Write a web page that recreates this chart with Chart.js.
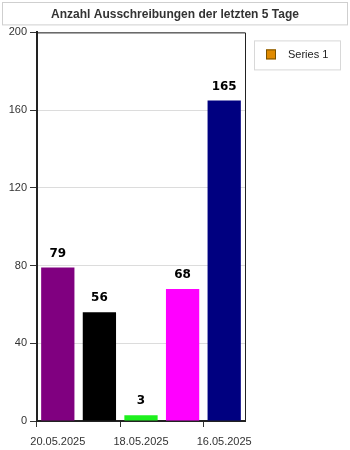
<!DOCTYPE html>
<html>
<head>
<meta charset="utf-8">
<script src="https://cdn.jsdelivr.net/npm/chart.js@4.4.0/dist/chart.umd.min.js"></script>
<style>
  html, body { margin: 0; padding: 0; background: #fff; }
  #wrap { width: 350px; height: 450px; }
</style>
</head>
<body>
<div id="wrap"><canvas id="grafico" width="350" height="450"></canvas></div>
<script>
// datos del grafico
const tage = ['20.05.2025', '19.05.2025', '18.05.2025', '17.05.2025', '16.05.2025'];
const anzahl = [79, 56, 3, 68, 165];
const farben = ['#800080', '#000000', '#1ef01e', '#ff00ff', '#000080'];
const yTicks = [0, 40, 80, 120, 160, 200];
const titel = 'Anzahl Ausschreibungen der letzten 5 Tage';
const serieName = 'Series 1';

const fuente = "'Liberation Sans', Arial, sans-serif";

// caja del titulo, borde del area y leyenda propia
const extras = {
  id: 'extras',
  afterDraw(chart) {
    const ctx = chart.ctx;
    const a = chart.chartArea;
    const t = chart.titleBlock;
    ctx.save();
    // caja titulo (ocupa todo el ancho)
    ctx.strokeStyle = '#cfcfcf';
    ctx.lineWidth = 1;
    ctx.strokeRect(2.5, t.top + 0.5, chart.width - 5, t.height - 8);
    ctx.fillStyle = '#333';
    ctx.font = 'bold 12px ' + fuente;
    ctx.textAlign = 'center';
    ctx.textBaseline = 'middle';
    ctx.fillText(titel, chart.width / 2, t.top + (t.height - 8) / 2 + 1);
    // borde arriba / derecha
    ctx.strokeStyle = '#222';
    ctx.beginPath();
    ctx.moveTo(a.left, a.top + 0.5);
    ctx.lineTo(a.right + 0.5, a.top + 0.5);
    ctx.lineTo(a.right + 0.5, a.bottom);
    ctx.stroke();
    // leyenda
    const lx = a.right + 9, ly = a.top + 8;
    ctx.strokeStyle = '#d8d8d8';
    ctx.strokeRect(lx + 0.5, ly + 0.5, 86, 29);
    ctx.fillStyle = '#e08a00';
    ctx.fillRect(lx + 12, ly + 9, 10, 10);
    ctx.strokeStyle = '#7a5200';
    ctx.strokeRect(lx + 12.5, ly + 9.5, 9, 9);
    ctx.fillStyle = '#222';
    ctx.font = '11px ' + fuente;
    ctx.textAlign = 'left';
    ctx.fillText(serieName, lx + 34, ly + 14.5);
    // etiquetas de valores
    const meta = chart.getDatasetMeta(0);
    ctx.font = "bold 12px 'DejaVu Sans', sans-serif";
    ctx.fillStyle = '#000';
    ctx.textAlign = 'center';
    meta.data.forEach((bar, i) => {
      ctx.fillText(String(anzahl[i]), bar.x, bar.y - 14);
    });
    ctx.restore();
  }
};

new Chart(document.getElementById('grafico'), {
  type: 'bar',
  data: {
    labels: tage,
    datasets: [{
      label: serieName,
      data: anzahl,
      backgroundColor: farben,
      barPercentage: 0.8,
      categoryPercentage: 1
    }]
  },
  options: {
    responsive: false,
    animation: false,
    layout: { padding: { left: 2, right: 105, top: 2, bottom: 2 } },
    plugins: {
      legend: { display: false },
      tooltip: { enabled: false },
      title: {
        display: true,
        text: titel,
        color: 'rgba(0,0,0,0)',
        font: { family: fuente, size: 12, weight: 'bold' },
        padding: { top: 4, bottom: 12 }
      }
    },
    scales: {
      x: {
        offset: true,
        afterFit(scale) { scale.height = 27; },
        grid: {
          offset: true,
          drawOnChartArea: false,
          tickLength: 6,
          tickColor: c => (c.index % 2 === 0 || c.index === tage.length) ? '#333' : 'rgba(0,0,0,0)'
        },
        border: { color: '#222', width: 2 },
        ticks: {
          autoSkip: false,
          maxRotation: 0,
          color: '#333',
          padding: 8,
          font: { family: fuente, size: 11 },
          callback(v, i) { return i % 2 === 0 ? tage[i] : ''; }
        }
      },
      y: {
        min: 0,
        max: 200,
        afterFit(scale) { scale.width = 35; },
        afterBuildTicks(scale) { scale.ticks = yTicks.map(v => ({ value: v })); },
        grid: {
          color: '#dcdcdc',
          tickColor: '#333',
          tickLength: 7
        },
        border: { color: '#222', width: 2 },
        ticks: {
          color: '#333',
          padding: 3,
          font: { family: fuente, size: 11 }
        }
      }
    }
  },
  plugins: [extras]
});
</script>
</body>
</html>
